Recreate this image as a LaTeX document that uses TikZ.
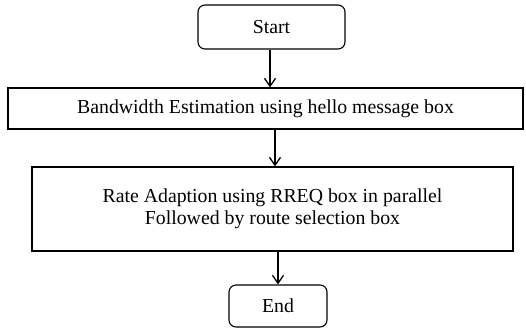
\documentclass[tikz,border=0pt]{standalone}
\usepackage{fontspec}
\setmainfont{Liberation Serif}
\usetikzlibrary{arrows.meta}
\begin{document}
\begin{tikzpicture}[x=1pt,y=-1pt,
  box/.style={draw,line width=1.1pt,inner sep=0pt,align=center,font=\fontsize{19.8}{22}\selectfont},
  term/.style={box,rounded corners=7pt},
  flow/.style={line width=1.3pt,-{Straight Barb[length=8pt,width=11pt,line width=1.3pt]}}]
\useasboundingbox (0,0) rectangle (526,330);
\node[term,minimum width=147pt,minimum height=44pt] (start) at (271.5,27) {Start};
\node[box,minimum width=515pt,minimum height=41pt] (bw) at (265.5,108.5) {Bandwidth Estimation using hello message box};
\node[box,minimum width=481pt,minimum height=84pt] (rate) at (272.5,209) {Rate Adaption using RREQ box in parallel\\Followed by route selection box};
\node[term,minimum width=98pt,minimum height=42pt] (end) at (278,306) {End};
\draw[flow] ([xshift=-1.5pt]start.south) -- ([xshift=-1.5pt]start.south |- bw.north);
\draw[flow] ([xshift=9.5pt]bw.south) -- ([xshift=9.5pt]bw.south |- rate.north);
\draw[flow] ([xshift=5.5pt]rate.south) -- (end.north);
\end{tikzpicture}
\end{document}
